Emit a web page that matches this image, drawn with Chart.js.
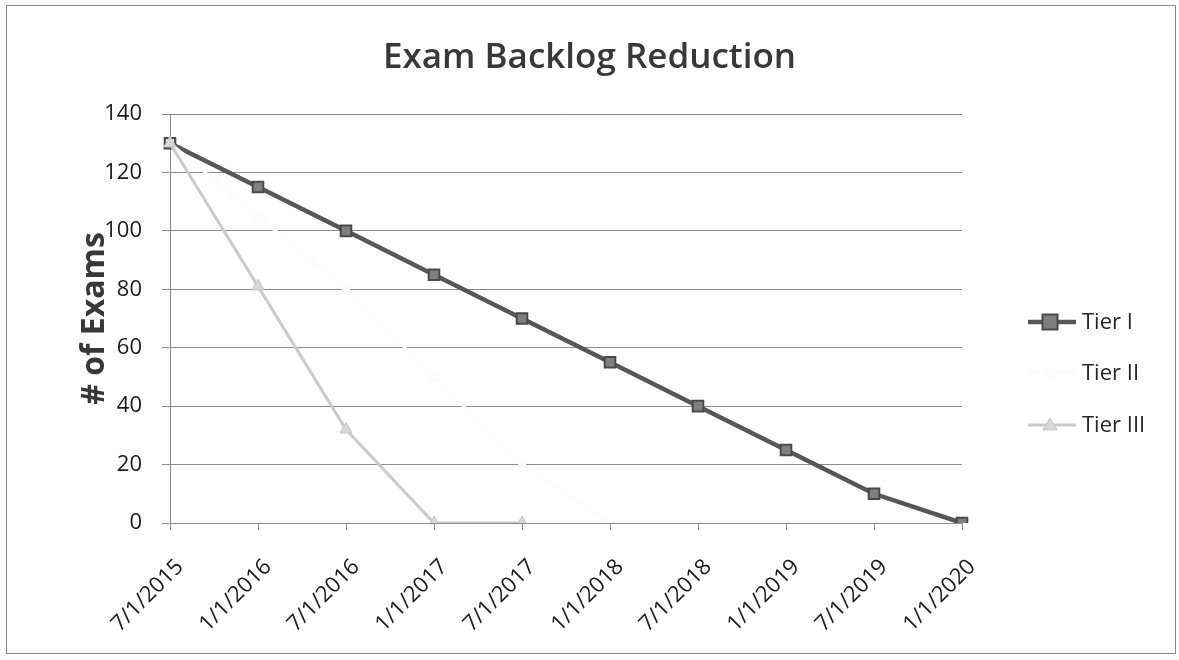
<!DOCTYPE html>
<html lang="en">
<head>
   <meta charset="UTF-8">
   <title>Exam Backlog Reduction</title>
   <style>
      html, body { margin: 0; padding: 0; background: #fff; }
      .chart-wrapper { width: 1179px; height: 660px; }
   </style>
   <script src="https://cdn.jsdelivr.net/npm/chart.js@4/dist/chart.umd.min.js"></script>
</head>
<body>
   <div class="chart-wrapper">
      <canvas id="backlog"></canvas>
   </div>

   <script>
      // dates on the x axis
      const labels = ['7/1/2015', '1/1/2016', '7/1/2016', '1/1/2017', '7/1/2017',
                      '1/1/2018', '7/1/2018', '1/1/2019', '7/1/2019', '1/1/2020'];
      // remaining exams per tier
      const tier1 = [130, 115, 100, 85, 70, 55, 40, 25, 10, 0];
      const tier2 = [130, 105, 80, 50, 20, 0, null, null, null, null];
      const tier3 = [130, 81, 32, 0, 0, null, null, null, null, null];
      const yTicks = [0, 20, 40, 60, 80, 100, 120, 140];

      const chartTitle = 'Exam Backlog Reduction';
      const fontFamily = '"Open Sans", Lato, sans-serif';

      // white page, thin frame and centred title like the pasted excel chart
      const framePlugin = {
         id: 'frame',
         beforeDraw(chart) {
            const ctx = chart.ctx;
            ctx.save();
            ctx.fillStyle = '#fff';
            ctx.fillRect(0, 0, chart.width, chart.height);
            ctx.strokeStyle = '#8a8a8a';
            ctx.lineWidth = 1;
            ctx.strokeRect(6.5, 5.5, chart.width - 10, chart.height - 12);
            ctx.fillStyle = '#383838';
            ctx.font = '600 35px ' + fontFamily;
            ctx.textAlign = 'center';
            ctx.textBaseline = 'middle';
            ctx.fillText(chartTitle, chart.width / 2, 58);
            ctx.restore();
         }
      };

      // excel style legend: line + marker, then name
      const sideLegend = {
         id: 'sideLegend',
         afterDraw(chart) {
            const ctx = chart.ctx;
            const x0 = chart.chartArea.right + 66;
            const ys = [322, 373, 425];
            ctx.save();
            chart.data.datasets.forEach((ds, i) => {
               const y = ys[i];
               const r = ds.pointRadius;
               const mx = x0 + 22;
               ctx.strokeStyle = ds.borderColor;
               ctx.lineWidth = ds.borderWidth;
               ctx.beginPath();
               ctx.moveTo(x0, y);
               ctx.lineTo(x0 + 48, y);
               ctx.stroke();
               ctx.fillStyle = ds.pointBackgroundColor;
               ctx.strokeStyle = ds.pointBorderColor;
               ctx.lineWidth = ds.pointBorderWidth;
               ctx.beginPath();
               if (ds.pointStyle === 'rect') {
                  ctx.rect(mx - r, y - r, r * 2, r * 2);
               } else {
                  ctx.moveTo(mx, y - r);
                  ctx.lineTo(mx + r, y + r * 0.7);
                  ctx.lineTo(mx - r, y + r * 0.7);
                  ctx.closePath();
               }
               ctx.fill();
               ctx.stroke();
               ctx.fillStyle = '#262626';
               ctx.font = '22px ' + fontFamily;
               ctx.textBaseline = 'middle';
               ctx.fillText(ds.label, x0 + 54, y + 1);
            });
            ctx.restore();
         }
      };

      const ctx = document.getElementById('backlog').getContext('2d');
      const myChart = new Chart(ctx, {
         type: 'line',
         data: {
            labels: labels,
            datasets: [
               {
                  label: 'Tier I',
                  data: tier1,
                  borderColor: '#575757',
                  borderWidth: 4.5,
                  pointStyle: 'rect',
                  pointRadius: 7.5,
                  pointBackgroundColor: '#7f7f7f',
                  pointBorderColor: '#4a4a4a',
                  pointBorderWidth: 2,
                  order: 3
               },
               {
                  label: 'Tier II',
                  data: tier2,
                  borderColor: '#fcfcfc',
                  borderWidth: 3,
                  pointStyle: 'rect',
                  pointRadius: 5,
                  pointBackgroundColor: '#fdfdfd',
                  pointBorderColor: '#fafafa',
                  pointBorderWidth: 1,
                  order: 2
               },
               {
                  label: 'Tier III',
                  data: tier3,
                  borderColor: '#cbcbcb',
                  borderWidth: 3,
                  pointStyle: 'triangle',
                  pointRadius: 7,
                  pointBackgroundColor: '#d8d8d8',
                  pointBorderColor: '#c6c6c6',
                  pointBorderWidth: 1,
                  order: 1
               }
            ]
         },
         options: {
            responsive: true,
            maintainAspectRatio: false,
            animation: false,
            layout: {
               padding: { left: 0, right: 217, top: 114, bottom: 10 }
            },
            plugins: {
               legend: { display: false },
               tooltip: { enabled: false },
               title: { display: false }
            },
            scales: {
               x: {
                  offset: false,
                  grid: {
                     drawOnChartArea: false,
                     drawTicks: true,
                     tickLength: 7,
                     color: '#8c8c8c'
                  },
                  border: { color: '#8c8c8c', width: 1 },
                  ticks: {
                     color: '#1a1a1a',
                     font: { family: fontFamily, size: 22 },
                     maxRotation: 45,
                     minRotation: 45,
                     autoSkip: false,
                     padding: 24,
                     labelOffset: 10
                  },
                  afterFit(scale) { scale.height = 127; }
               },
               y: {
                  min: 0,
                  max: 140,
                  afterBuildTicks(scale) {
                     scale.ticks = yTicks.map(v => ({ value: v }));
                  },
                  grid: {
                     color: '#8c8c8c',
                     lineWidth: 1,
                     drawTicks: true,
                     tickLength: 8
                  },
                  border: { color: '#8c8c8c', width: 1 },
                  ticks: {
                     color: '#1a1a1a',
                     font: { family: fontFamily, size: 22 },
                     padding: 20
                  },
                  title: {
                     display: true,
                     text: '# of Exams',
                     color: '#383838',
                     font: { family: fontFamily, size: 32, weight: 'bold' },
                     padding: { top: 76, bottom: 0 }
                  },
                  afterFit(scale) { scale.width = 170; }
               }
            }
         },
         plugins: [framePlugin, sideLegend]
      });
   </script>
</body>
</html>
